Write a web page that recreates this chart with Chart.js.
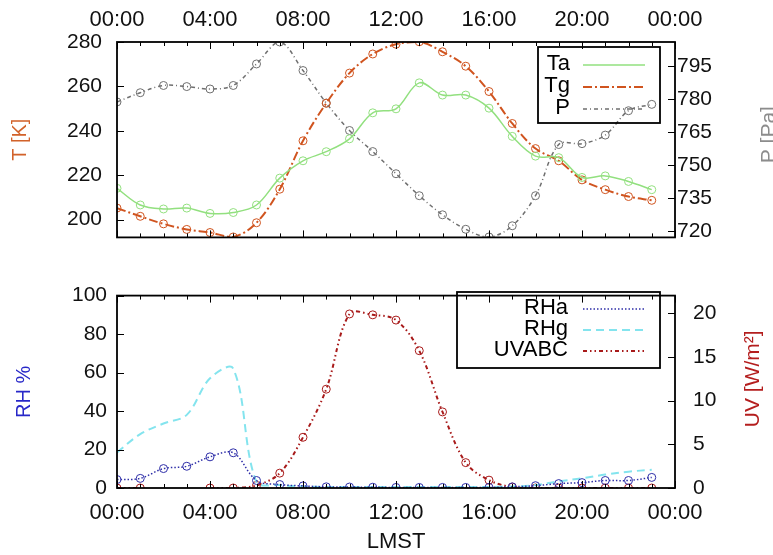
<!DOCTYPE html>
<html>
<head>
<meta charset="utf-8">
<script src="https://cdn.jsdelivr.net/npm/chart.js@4.4.0/dist/chart.umd.min.js"></script>
<style>
  html, body { margin: 0; padding: 0; background: #fff; overflow: hidden; }
  #wrap { position: relative; width: 773px; height: 555px; }
  canvas { position: absolute; left: 0; }
  #c1 { top: 0; }
  #c2 { top: 265px; }
</style>
</head>
<body>
<div id="wrap">
  <canvas id="c1" width="773" height="265"></canvas>
  <canvas id="c2" width="773" height="290"></canvas>
</div>
<script>
// hourly samples, LMST
const hours = [0, 1, 2, 3, 4, 5, 6, 7, 8, 9, 10, 11, 12, 13, 14, 15, 16, 17, 18, 19, 20, 21, 22, 23];

// top panel
const ta = [214.1, 206.6, 204.8, 205.2, 202.8, 203.2, 206.6, 218.7, 226.5, 230.6, 236.4, 248.1,
            249.9, 261.6, 256.1, 256.1, 250.2, 237.5, 228.6, 227.9, 219.0, 219.7, 217.2, 213.5];
const tg = [205.2, 201.5, 198.1, 195.6, 194.2, 192.2, 198.6, 213.7, 235.5, 252.4, 266.0, 274.6,
            279.0, 280.1, 275.6, 269.1, 257.7, 243.3, 232.0, 226.5, 217.9, 213.5, 210.4, 208.7];
const pres = [778.7, 782.9, 786.2, 785.7, 784.6, 786.2, 796.0, 806.0, 793.0, 778.2, 765.7, 756.1,
              746.0, 736.0, 727.3, 720.7, 717.2, 722.3, 736.0, 759.3, 759.7, 763.6, 774.7, 777.6];

// bottom panel
const rha = [4.4, 5.0, 10.1, 11.3, 16.2, 18.3, 3.9, 1.8, 1.1, 0.6, 0.5, 0.4,
             0.3, 0.3, 0.3, 0.3, 0.3, 0.6, 1.2, 2.3, 2.8, 3.9, 3.9, 5.5];
const rhg = [18.5, 28, 33.5, 38, 57, 62, 3, 1.5, 0.8, 0.5, 0.5, 0.5,
             0.5, 0.5, 0.5, 0.5, 0.5, 0.8, 1.5, 3.5, 5, 7, 8.5, 9.5];
const uvabc = [0, 0, null, null, 0, 0, 0.3, 1.7, 5.8, 11.3, 19.9, 19.8,
               19.2, 15.7, 8.7, 2.9, 0.9, 0.1, 0, 0, 0, 0, 0, 0];

// tick values
const xTicks = [0, 4, 8, 12, 16, 20, 24];
const tTicks = [200, 220, 240, 260, 280];
const pTicks = [720, 735, 750, 765, 780, 795];
const rhTicks = [0, 20, 40, 60, 80, 100];
const uvTicks = [0, 5, 10, 15, 20];

const FONT = "'Liberation Sans', Arial, Helvetica, sans-serif";
const xFont = { family: FONT, size: 22 };
const yFont = { family: FONT, size: 21 };

const pts = arr => hours.map((h, i) => ({ x: h, y: arr[i] }));
const setTicks = vals => scale => { scale.ticks = vals.map(v => ({ value: v })); };
const hhmm = v => String(v % 24).padStart(2, '0') + ':00';

function series(label, arr, color, dash, axis, width, radius) {
  return {
    label: label,
    data: pts(arr),
    yAxisID: axis,
    borderColor: color,
    borderDash: dash,
    borderWidth: width || 1.6,
    pointRadius: radius === undefined ? 4 : radius,
    pointBorderWidth: 1,
    pointBorderColor: color,
    pointBackgroundColor: 'rgba(0,0,0,0)',
    tension: 0.35,
    spanGaps: false,
    fill: false
  };
}

// frame, inward tick marks, right-hand title and boxed legend, gnuplot style
const gnuFrame = {
  id: 'gnuFrame',
  afterDraw(chart, args, o) {
    const { ctx, chartArea: a, scales } = chart;
    const line = (x1, y1, x2, y2) => { ctx.beginPath(); ctx.moveTo(x1, y1); ctx.lineTo(x2, y2); ctx.stroke(); };
    ctx.save();
    ctx.strokeStyle = '#000';
    ctx.lineWidth = 1;
    for (let h = 0; h <= 24; h++) {
      const px = Math.round(scales.x.getPixelForValue(h)) + 0.5;
      const len = h % 4 === 0 ? 7 : 4;
      line(px, a.top, px, a.top + len);
      line(px, a.bottom, px, a.bottom - len);
    }
    scales.y.ticks.forEach(t => {
      const py = Math.round(scales.y.getPixelForValue(t.value)) + 0.5;
      line(a.left, py, a.left + 7, py);
    });
    scales.y1.ticks.forEach(t => {
      const py = Math.round(scales.y1.getPixelForValue(t.value)) + 0.5;
      line(a.right, py, a.right - 7, py);
    });
    ctx.lineWidth = 1.8;
    ctx.strokeRect(a.left, a.top, a.right - a.left, a.bottom - a.top);

    // right axis title, reads bottom to top
    ctx.save();
    ctx.translate(o.rightTitle.x, (a.top + a.bottom) / 2 + o.rightTitle.dy);
    ctx.rotate(-Math.PI / 2);
    ctx.fillStyle = o.rightTitle.color;
    ctx.font = '21px ' + FONT;
    ctx.textAlign = 'center';
    ctx.textBaseline = 'middle';
    ctx.fillText(o.rightTitle.text, 0, 0);
    ctx.restore();

    // legend
    const L = o.legend;
    ctx.lineWidth = 1.8;
    ctx.strokeStyle = '#000';
    ctx.strokeRect(L.left, L.top, L.right - L.left, L.bottom - L.top);
    ctx.font = '22px ' + FONT;
    ctx.fillStyle = '#000';
    ctx.textAlign = 'right';
    ctx.textBaseline = 'middle';
    chart.data.datasets.forEach((ds, i) => {
      const y = L.rows[i];
      ctx.fillText(ds.label, L.textRight, y);
      ctx.save();
      ctx.strokeStyle = ds.borderColor;
      ctx.lineWidth = ds.borderWidth;
      ctx.setLineDash(ds.borderDash || []);
      line(L.x1, y + 1, L.x2, y + 1);
      ctx.restore();
    });
    ctx.restore();
  }
};

function yAxis(pos, min, max, vals, pad, width, title) {
  return {
    type: 'linear',
    position: pos,
    min: min,
    max: max,
    afterBuildTicks: setTicks(vals),
    afterFit: s => { s.width = width; },
    grid: { display: false, drawTicks: false },
    border: { display: false },
    ticks: { font: yFont, color: '#111', padding: pad },
    title: title || { display: false }
  };
}

function xAxis(pos, height, pad, title) {
  return {
    type: 'linear',
    position: pos,
    min: 0,
    max: 24,
    afterBuildTicks: setTicks(xTicks),
    afterFit: s => { s.height = height; },
    grid: { display: false, drawTicks: false },
    border: { display: false },
    ticks: { font: xFont, color: '#111', padding: pad, maxRotation: 0, callback: hhmm },
    title: title || { display: false }
  };
}

new Chart(document.getElementById('c1'), {
  type: 'line',
  data: {
    datasets: [
      series('Ta', ta, '#92e07f', [], 'y', 1.5),
      series('Tg', tg, '#d0541f', [9, 3, 2, 3], 'y', 2),
      series('P', pres, '#6f6f6f', [4, 3, 1, 3], 'y1', 1.5)
    ]
  },
  options: {
    responsive: false,
    animation: false,
    layout: { padding: { top: 0, bottom: 10, left: 0, right: 0 } },
    plugins: {
      legend: { display: false },
      tooltip: { enabled: false },
      gnuFrame: {
        rightTitle: { text: 'P [Pa]', color: '#8c8c8c', x: 769, dy: -5 },
        legend: { left: 538, top: 47, right: 660, bottom: 123, textRight: 570,
                  rows: [64, 86, 108], x1: 583, x2: 645 }
      }
    },
    scales: {
      x: xAxis('top', 42, 9),
      y: yAxis('left', 192, 280, tTicks, 15, 117,
               { display: true, text: 'T [K]', color: '#d2622a', font: { family: FONT, size: 20 },
                 padding: { top: 8, bottom: 0 } }),
      y1: yAxis('right', 717, 806, pTicks, 2, 98)
    }
  },
  plugins: [gnuFrame]
});

new Chart(document.getElementById('c2'), {
  type: 'line',
  data: {
    datasets: [
      series('RHa', rha, '#2e2ea8', [1.5, 2], 'y', 1.5),
      series('RHg', rhg, '#84e4ee', [8, 5], 'y', 2, 0),
      series('UVABC', uvabc, '#a81a1a', [4, 3, 1.5, 3, 1.5, 3], 'y1', 2)
    ]
  },
  options: {
    responsive: false,
    animation: false,
    layout: { padding: { top: 19, bottom: 0, left: 0, right: 0 } },
    plugins: {
      legend: { display: false },
      tooltip: { enabled: false },
      gnuFrame: {
        rightTitle: { text: 'UV [W/m²]', color: '#b41e1e', x: 753, dy: -13 },
        legend: { left: 457, top: 27, right: 660, bottom: 103, textRight: 568,
                  rows: [43, 64, 85], x1: 583, x2: 645 }
      }
    },
    scales: {
      x: xAxis('bottom', 67, 12,
               { display: true, text: 'LMST', color: '#111', font: { family: FONT, size: 22 },
                 padding: { top: 0, bottom: 0 } }),
      y: yAxis('left', 0, 100, rhTicks, 10, 117,
               { display: true, text: 'RH %', color: '#2828c8', font: { family: FONT, size: 20 },
                 padding: { top: 12, bottom: 0 } }),
      y1: yAxis('right', 0, 22, uvTicks, 18, 98)
    }
  },
  plugins: [gnuFrame]
});
</script>
</body>
</html>
